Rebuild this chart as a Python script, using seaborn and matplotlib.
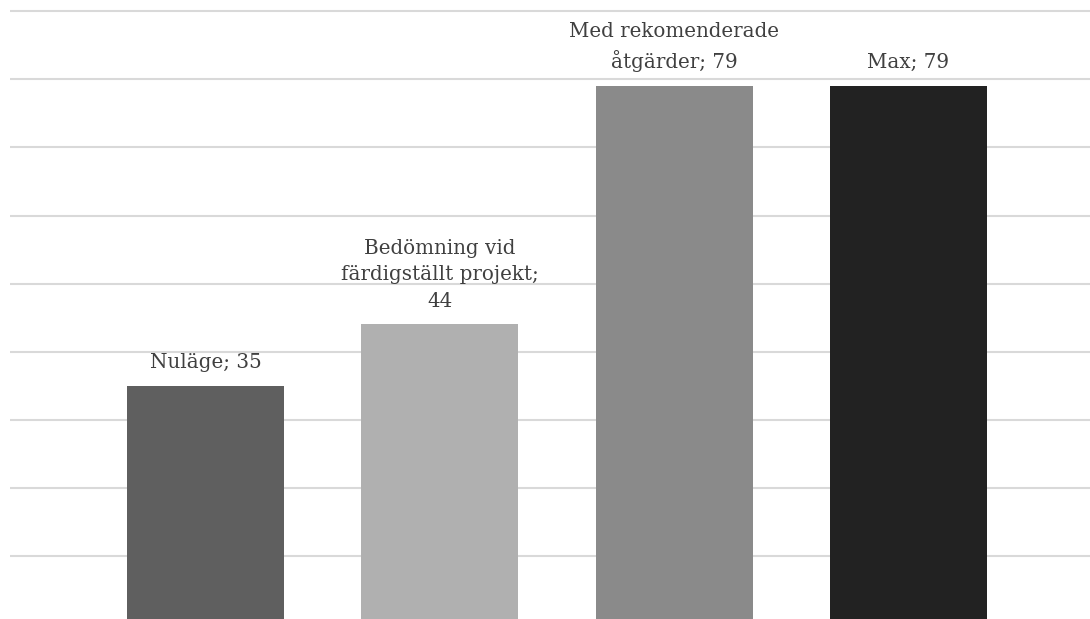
import matplotlib
matplotlib.use("Agg")
import matplotlib.pyplot as plt
import seaborn as sns
import pandas as pd

categories = ["Nuläge", "Bedömning vid färdigställt projekt", "Med rekomenderade åtgärder", "Max"]
values = [35, 44, 79, 79]
label_texts = ["Nuläge; 35", "Bedömning vid\nfärdigställt projekt;\n44", "Med rekomenderade\nåtgärder; 79", "Max; 79"]
colors = ["#5f5f5f", "#b0b0b0", "#8a8a8a", "#222222"]
y_ticks = list(range(0, 100, 10))

sns.set_theme(style="white")
plt.rcParams["font.family"] = ["DejaVu Serif"]

df = pd.DataFrame({"cat": categories, "val": values})

fig = plt.figure(figsize=(10.9, 6.19), dpi=100)
W, H = 1090, 619
px_per = 68.1 / 10
base = 624.1
ymax = 91
top_px = base - ymax * px_per
ax = fig.add_axes([10 / W, (H - base) / H, 1080 / W, (base - top_px) / H])

sns.barplot(data=df, x="cat", y="val", hue="cat", palette=colors, dodge=False,
            width=0.67, legend=False, ax=ax, saturation=1, linewidth=0)

ax.set_ylim(0, ymax)
ax.set_yticks(y_ticks)
ax.set_xlim(-0.834, 3.775)
ax.yaxis.grid(True, color="#d9d9d9", linewidth=1.5)
ax.set_axisbelow(True)
ax.tick_params(left=False, bottom=False, labelleft=False, labelbottom=False)
ax.set_xlabel("")
ax.set_ylabel("")
for s in ax.spines.values():
    s.set_visible(False)

for cont, lab in zip(ax.containers, label_texts):
    txts = ax.bar_label(cont, labels=[lab], padding=10, fontsize=14.3, color="#404040",
                        linespacing=1.5)
    for t in txts:
        t.set_multialignment("center")

fig.savefig("out.png", dpi=100)
